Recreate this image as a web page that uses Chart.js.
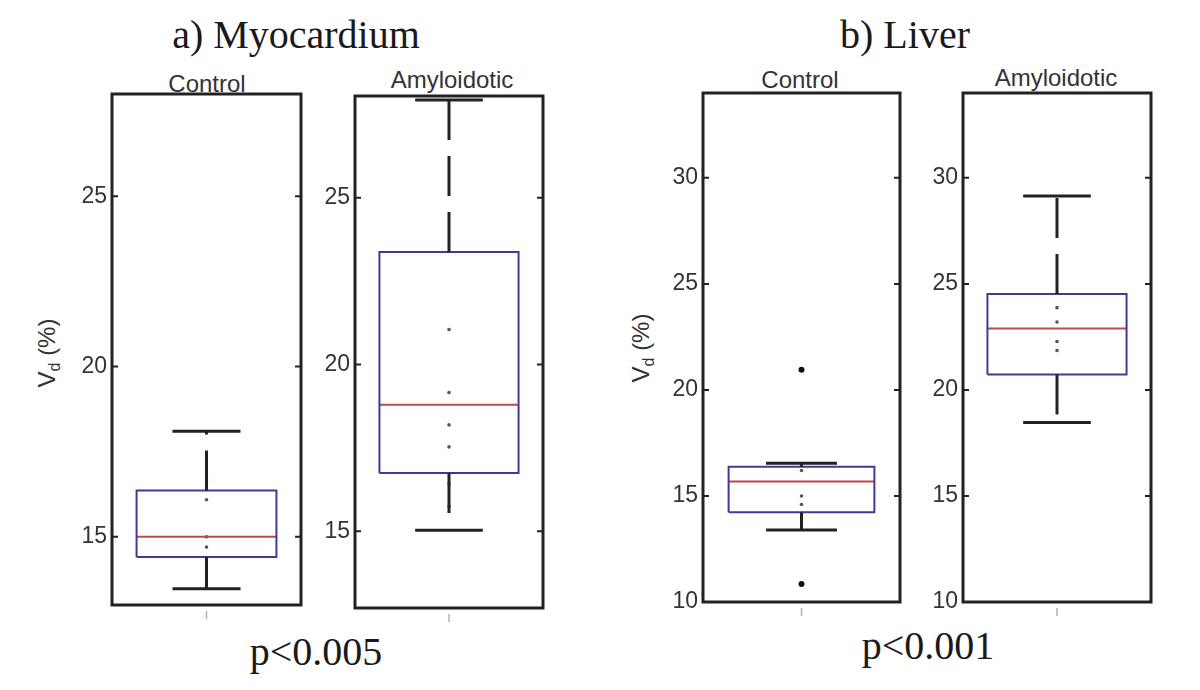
<!DOCTYPE html>
<html><head><meta charset="utf-8">
<script src="https://cdn.jsdelivr.net/npm/chart.js@4.4.1/dist/chart.umd.min.js"></script>
<style>
body{margin:0;background:#fff;width:1200px;height:690px;position:relative;overflow:hidden;font-family:"Liberation Sans",Arial,sans-serif;}
.c{position:absolute;}
.t{position:absolute;white-space:nowrap;transform:translateX(-50%);}
.serif{font-family:"Liberation Serif","Times New Roman",serif;font-size:40px;line-height:40px;color:#1a1a1a;}
.sans{font-size:24px;line-height:24px;color:#333;}
.ylab{position:absolute;white-space:nowrap;font-size:24px;line-height:24px;color:#333;transform:translate(-50%,-50%) rotate(-90deg);}
.ylab sub{font-size:16px;}
</style></head><body>
<div class="t serif" style="left:296px;top:15px">a) Myocardium</div>
<div class="t serif" style="left:905px;top:15px">b) Liver</div>
<div class="t serif" style="left:316px;top:632px">p&lt;0.005</div>
<div class="t serif" style="left:928px;top:626px">p&lt;0.001</div>
<div class="t sans" style="left:207px;top:72px">Control</div>
<div class="t sans" style="left:452px;top:68px">Amyloidotic</div>
<div class="t sans" style="left:800px;top:68px">Control</div>
<div class="t sans" style="left:1056px;top:66px">Amyloidotic</div>
<div class="ylab" style="left:51px;top:353px">V<sub>d</sub> (%)</div>
<div class="ylab" style="left:645px;top:348px">V<sub>d</sub> (%)</div>
<div id="wrap"></div>
<script>
// ---- data ----
const groups = ["Control", "Amyloidotic", "Control", "Amyloidotic"];
const lowerWhisker = [13.48, 15.03, 13.39, 18.46];
const q1 = [14.41, 16.75, 14.23, 20.73];
const median = [15.0, 18.79, 15.68, 22.9];
const q3 = [16.36, 23.37, 16.38, 24.52];
const upperWhisker = [18.1, 27.93, 16.54, 29.14];
const outliers = [[], [], [20.95, 10.85], []];
const samplePoints = [
  [16.67, 16.09, 15.0, 14.7],
  [21.05, 19.16, 18.19, 17.53, 16.43, 15.75],
  [16.2, 15.0, 14.6],
  [23.88, 23.2, 22.28, 21.86]
];
const yTicks = [[15, 20, 25], [15, 20, 25], [10, 15, 20, 25, 30], [10, 15, 20, 25, 30]];
const yMin = [13, 12.7, 10, 10];
const yMax = [28, 28.05, 34, 34];

// ---- layout / style ----
const frames = [
  {l:112, r:301, t:94, b:605},
  {l:355, r:543, t:96, b:608},
  {l:703, r:900, t:93, b:602},
  {l:963, r:1151, t:93, b:602}
];
const PAD_T = 24, PAD_B = 24;
const BOX_HALF = 0.74, CAP_HALF = 0.36;
const BLUE = '#3c3c98', RED = '#c04848', INK = '#222222';

const framePlugin = {
  id: 'frame',
  afterDatasetsDraw(chart) {
    const {ctx, chartArea: a, scales} = chart;
    ctx.save();
    ctx.strokeStyle = INK;
    ctx.lineWidth = 2;
    scales.y.ticks.forEach(t => {
      const y = scales.y.getPixelForValue(t.value);
      ctx.beginPath();
      ctx.moveTo(a.left, y); ctx.lineTo(a.left + 6, y);
      ctx.moveTo(a.right, y); ctx.lineTo(a.right - 6, y);
      ctx.stroke();
    });
    ctx.lineWidth = 3;
    ctx.strokeRect(a.left, a.top, a.right - a.left, a.bottom - a.top);
    const xc = scales.x.getPixelForValue(0);
    ctx.strokeStyle = '#b0b0b0';
    ctx.lineWidth = 1.5;
    ctx.beginPath();
    ctx.moveTo(xc, a.bottom + 6); ctx.lineTo(xc, a.bottom + 14);
    ctx.stroke();
    ctx.restore();
  }
};

function seg(x0, y0, x1, y1) { return [{x:x0, y:y0}, {x:x1, y:y1}]; }

groups.forEach((g, i) => {
  const f = frames[i];
  const div = document.createElement('div');
  div.className = 'c';
  div.style.left = (f.l - 80) + 'px';
  div.style.top = (f.t - PAD_T) + 'px';
  div.style.width = (f.r - f.l + 90) + 'px';
  div.style.height = (f.b - f.t + PAD_T + PAD_B) + 'px';
  const cv = document.createElement('canvas');
  div.appendChild(cv);
  document.getElementById('wrap').appendChild(div);

  const lineDs = (data, color, width, dash) => ({
    data, borderColor: color, borderWidth: width, borderDash: dash || [],
    pointRadius: 0, fill: false, tension: 0, borderCapStyle: 'butt'
  });
  const datasets = [
    lineDs(seg(0, q3[i], 0, upperWhisker[i]), INK, 3, [40, 16]),
    lineDs(seg(0, q1[i], 0, lowerWhisker[i]), INK, 3, [40, 16]),
    lineDs(seg(-CAP_HALF, upperWhisker[i], CAP_HALF, upperWhisker[i]), INK, 3),
    lineDs(seg(-CAP_HALF, lowerWhisker[i], CAP_HALF, lowerWhisker[i]), INK, 3),
    lineDs([{x:-BOX_HALF, y:q1[i]}, {x:BOX_HALF, y:q1[i]}, {x:BOX_HALF, y:q3[i]},
            {x:-BOX_HALF, y:q3[i]}, {x:-BOX_HALF, y:q1[i]}], BLUE, 2),
    lineDs(seg(-BOX_HALF, median[i], BOX_HALF, median[i]), RED, 2),
    {data: samplePoints[i].map(v => ({x:0, y:v})), showLine:false, pointRadius:1.8,
     pointBackgroundColor:'#555', pointBorderWidth:0},
    {data: outliers[i].map(v => ({x:0, y:v})), showLine:false, pointRadius:3,
     pointBackgroundColor:'#111', pointBorderWidth:0}
  ];

  new Chart(cv, {
    type: 'line',
    data: {datasets},
    options: {
      responsive: true, maintainAspectRatio: false, animation: false,
      layout: {padding: {top: PAD_T, bottom: PAD_B, left: 0, right: 10}},
      plugins: {legend: {display: false}, tooltip: {enabled: false}, title: {display: false}},
      scales: {
        x: {type: 'linear', min: -1, max: 1, display: false},
        y: {
          type: 'linear', min: yMin[i], max: yMax[i],
          afterBuildTicks: s => { s.ticks = yTicks[i].map(v => ({value: v})); },
          afterFit: s => { s.width = 80; },
          grid: {display: false, drawTicks: false},
          border: {display: false},
          ticks: {padding: 5, color: '#333', font: {family: 'Liberation Sans', size: 23}}
        }
      }
    },
    plugins: [framePlugin]
  });
});
</script>
</body></html>
